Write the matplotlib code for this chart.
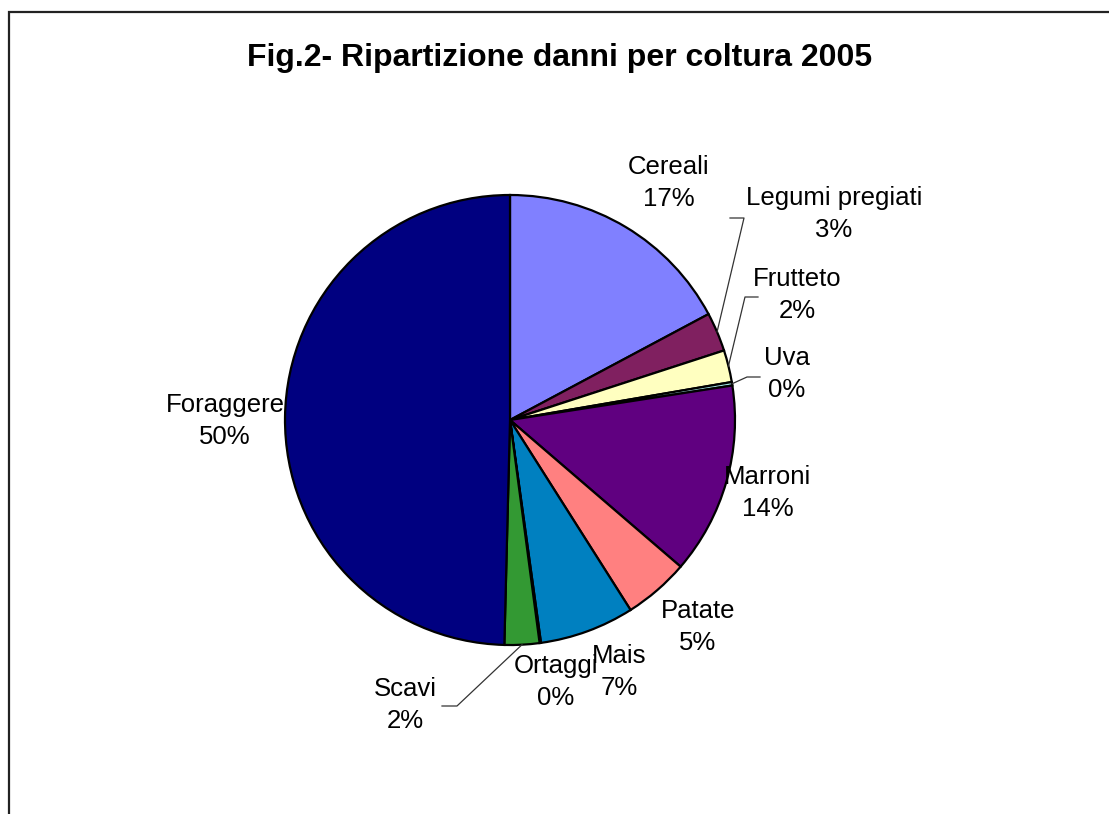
import matplotlib
matplotlib.use("Agg")
import matplotlib.pyplot as plt
import numpy as np
from matplotlib.patches import Rectangle

# crops, clockwise from 12 o'clock (shares in %)
crops = ["Cereali", "Legumi pregiati", "Frutteto", "Uva", "Marroni",
         "Patate", "Mais", "Ortaggi", "Scavi", "Foraggere"]
shares = [17.2, 2.8, 2.3, 0.25, 13.75, 4.7, 6.8, 0.1, 2.5, 49.6]
colors = ["#8080FF", "#802060", "#FFFFC0", "#A0E0E0", "#600080",
          "#FF8080", "#0080C0", "#C0C0FF", "#339933", "#000080"]
title = "Fig.2- Ripartizione danni per coltura 2005"

W, H = 1109, 814
plt.rcParams["font.family"] = ["Liberation Sans", "DejaVu Sans"]
fig = plt.figure(figsize=(W / 100, H / 100), dpi=100)
ax = fig.add_axes([0, 0, 1, 1])

# chart area frame (runs off the right and bottom edge)
ax.add_patch(Rectangle((8.5, -20), W, H - 11.5 + 20, fill=False, ec="#222222", lw=1.6))

cx, cy, r = 510, H - 420, 225
wedges, _ = ax.pie(shares, colors=colors, startangle=90, counterclock=False,
                   center=(cx, cy), radius=r, frame=True,
                   wedgeprops=dict(edgecolor="black", linewidth=1.6))
ax.set_xlim(0, W); ax.set_ylim(0, H); ax.axis("off")

# label centres in pixel coords (x, y of name line), layout only
label_pos = {
    "Cereali": (669, 167), "Legumi pregiati": (834, 198), "Frutteto": (797, 279),
    "Uva": (787, 358), "Marroni": (768, 477), "Patate": (698, 611),
    "Mais": (619, 656), "Ortaggi": (556, 666), "Scavi": (405, 689),
    "Foraggere": (225, 405),
}
# leader lines: elbow and end point (pixel coords)
leaders = {
    "Legumi pregiati": [(744, 218), (730, 218)],
    "Frutteto": [(745, 297), (758, 297)],
    "Uva": [(747, 377), (760, 377)],
    "Scavi": [(457, 706), (442, 706)],
}

for name, share, w in zip(crops, shares, wedges):
    x, y = label_pos[name]
    ax.text(x, H - y, name, ha="center", va="center", fontsize=18.5)
    ax.text(x, H - y - 32, f"{share:.0f}%", ha="center", va="center", fontsize=18.5)
    if name in leaders:
        mid = np.deg2rad((w.theta1 + w.theta2) / 2)
        px, py = cx + r * np.cos(mid), cy + r * np.sin(mid)
        pts = [(px, py)] + [(a, H - b) for a, b in leaders[name]]
        xs, ys = zip(*pts)
        ax.plot(xs, ys, color="#333333", lw=0.9)

ax.text(560, H - 58, title, ha="center", va="center", fontsize=23, fontweight="bold")

fig.savefig("out.png", dpi=100)
